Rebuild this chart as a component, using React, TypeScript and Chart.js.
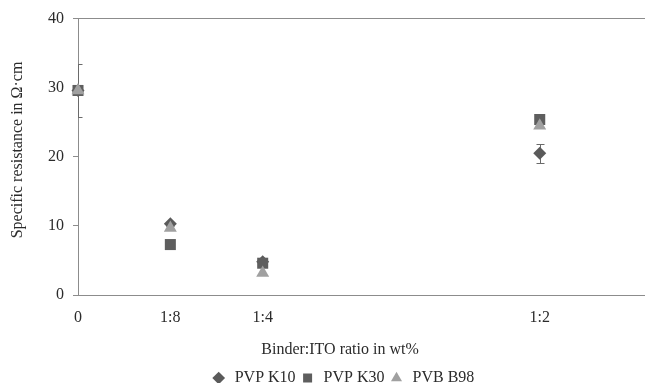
import React, { useEffect, useRef } from 'react';
import { Chart, registerables } from 'chart.js';

Chart.register(...registerables);

const categories = ['0', '1:8', '1:4', '1:2'];
const xPositions = [0, 1, 2, 5];
const pvpK10 = [29.6, 10.3, 4.8, 20.5];
const pvpK10Err = [3.9, 0.3, 0.3, 1.35];
const pvpK30 = [29.6, 7.3, 4.6, 25.4];
const pvbB98 = [29.6, 9.7, 3.2, 24.5];
const yTicks = [0, 10, 20, 30, 40];
const xTitle = 'Binder:ITO ratio in wt%';
const yTitle = 'Specific resistance in Ω·cm';

const FONT = "'Liberation Serif', 'Times New Roman', serif";
const AXIS = '#8c8c8c';
const TEXT = '#2b2b2b';
const FS = 16;

const errorBarPlugin = {
  id: 'errorBars',
  beforeDatasetsDraw(chart: any) {
    const { ctx, chartArea } = chart;
    const yScale = chart.scales.y;
    chart.data.datasets.forEach((ds: any, di: number) => {
      if (!ds.errors) return;
      const meta = chart.getDatasetMeta(di);
      ctx.save();
      ctx.beginPath();
      ctx.rect(chartArea.left, chartArea.top, chartArea.right - chartArea.left, chartArea.bottom - chartArea.top);
      ctx.clip();
      ctx.strokeStyle = '#6a6a6a';
      ctx.lineWidth = 1;
      meta.data.forEach((pt: any, i: number) => {
        const v = ds.data[i].y;
        const e = ds.errors[i];
        const x = Math.round(pt.x) + 0.5;
        const y1 = Math.round(yScale.getPixelForValue(v + e)) + 0.5;
        const y2 = Math.round(yScale.getPixelForValue(v - e)) + 0.5;
        ctx.beginPath();
        ctx.moveTo(x, y1);
        ctx.lineTo(x, y2);
        ctx.moveTo(x - 4, y1);
        ctx.lineTo(x + 4, y1);
        ctx.moveTo(x - 4, y2);
        ctx.lineTo(x + 4, y2);
        ctx.stroke();
      });
      ctx.restore();
    });
  },
};

const layoutPlugin = {
  id: 'layoutTweaks',
  afterLayout(chart: any) {
    const lg = chart.legend;
    if (lg) {
      lg.left += 20;
      lg.right += 20;
    }
    // let the plot area run to the right edge of the canvas
    const xs = chart.scales.x;
    const right = chart.width;
    xs.right = right;
    xs.width = right - xs.left;
    xs.configure();
    chart.chartArea.right = right;
    chart.chartArea.width = right - chart.chartArea.left;
  },
  afterDraw(chart: any) {
    const { ctx } = chart;
    ctx.save();
    ctx.fillStyle = TEXT;
    ctx.font = `${FS}px ${FONT}`;
    ctx.textAlign = 'center';
    ctx.textBaseline = 'middle';
    ctx.fillText(xTitle, 340, 350);
    ctx.translate(18, 150);
    ctx.rotate(-Math.PI / 2);
    ctx.fillText(yTitle, 0, 0);
    ctx.restore();
  },
};

export default function App() {
  const ref = useRef<HTMLCanvasElement>(null);
  useEffect(() => {
    document.body.style.margin = '0';
    const toPts = (arr: number[]) => arr.map((v, i) => ({ x: xPositions[i], y: v }));
    const chart = new Chart(ref.current!, {
      type: 'scatter',
      data: {
        datasets: [
          {
            label: 'PVP K10',
            data: toPts(pvpK10),
            errors: pvpK10Err,
            pointStyle: 'rectRot',
            pointRadius: 6.5,
            pointHoverRadius: 6.5,
            backgroundColor: '#5a5a5a',
            borderColor: '#5a5a5a',
            borderWidth: 0,
            clip: false,
            order: 3,
          } as any,
          {
            label: 'PVP K30',
            data: toPts(pvpK30),
            pointStyle: 'rect',
            pointRadius: 7.8,
            pointHoverRadius: 7.8,
            backgroundColor: '#5e5e5e',
            borderColor: '#5e5e5e',
            borderWidth: 0,
            clip: false,
            order: 2,
          },
          {
            label: 'PVB B98',
            data: toPts(pvbB98),
            pointStyle: 'triangle',
            pointRadius: 7.5,
            pointHoverRadius: 7.5,
            backgroundColor: '#a0a0a0',
            borderColor: '#a0a0a0',
            borderWidth: 0,
            clip: false,
            order: 1,
          },
        ],
      },
      options: {
        animation: false,
        responsive: false,
        events: [],
        layout: { padding: { top: 16, right: 0, left: 0, bottom: -13 } },
        plugins: {
          tooltip: { enabled: false },
          legend: {
            position: 'bottom',
            labels: {
              usePointStyle: true,
              boxHeight: 9,
              padding: 4,
              color: TEXT,
              font: { family: FONT, size: FS },
              sort: (a: any, b: any) => a.datasetIndex - b.datasetIndex,
            },
          },
        },
        scales: {
          x: {
            type: 'linear',
            min: 0,
            max: 6.14,
            afterBuildTicks: (scale: any) => {
              scale.ticks = xPositions.map((v) => ({ value: v }));
            },
            afterFit: (scale: any) => {
              scale.height = 71;
              scale.paddingRight = 0;
            },
            grid: { display: false, drawTicks: false },
            border: { display: true, color: AXIS, width: 1 },
            ticks: {
              autoSkip: false,
              maxRotation: 0,
              padding: 13,
              color: TEXT,
              font: { family: FONT, size: FS },
              callback: (v: any) => {
                const i = xPositions.indexOf(Number(v));
                return i >= 0 ? categories[i] : '';
              },
            },
            title: { display: false },
          },
          y: {
            min: 0,
            max: 40,
            afterBuildTicks: (scale: any) => {
              scale.ticks = yTicks.map((v) => ({ value: v }));
            },
            afterFit: (scale: any) => {
              scale.width = 78;
            },
            grid: {
              color: (c: any) => (c.tick && c.tick.value === 40 ? AXIS : 'rgba(0,0,0,0)'),
              tickColor: AXIS,
              tickLength: 5,
              drawTicks: true,
            },
            border: { display: true, color: AXIS, width: 1 },
            ticks: {
              padding: 9,
              color: TEXT,
              font: { family: FONT, size: FS },
            },
            title: { display: false },
          },
        },
      },
      plugins: [errorBarPlugin, layoutPlugin],
    } as any);
    return () => chart.destroy();
  }, []);
  return (
    <div style={{ width: 645, height: 383, background: '#fff' }}>
      <canvas ref={ref} width={645} height={383} />
    </div>
  );
}
